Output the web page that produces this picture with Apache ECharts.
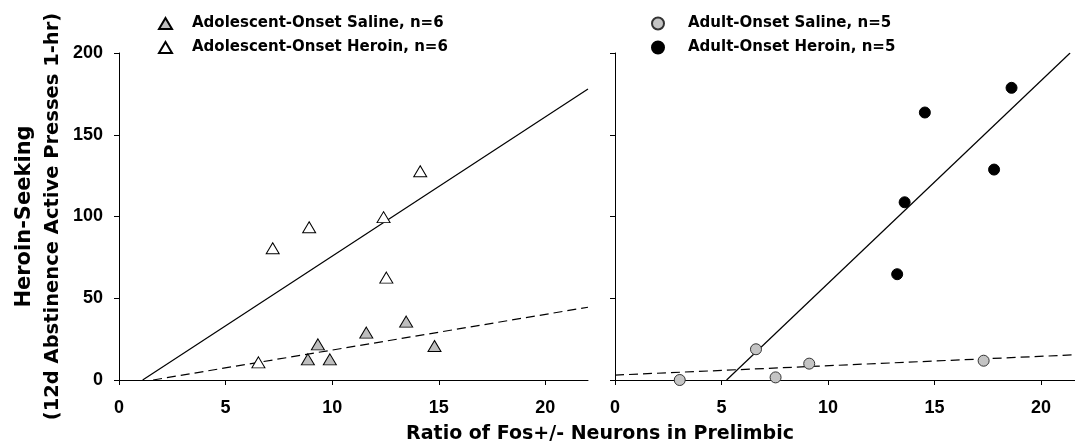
<!DOCTYPE html>
<html>
<head>
<meta charset="utf-8">
<script src="https://cdn.jsdelivr.net/npm/echarts@6/dist/echarts.min.js"></script>
<style>
  html, body { margin: 0; padding: 0; background: #fff; }
  #chart { width: 1075px; height: 445px; }
</style>
</head>
<body>
<div id="chart"></div>
<script>
// tick values
var xTicks = [0, 5, 10, 15, 20];
var yTicks = [0, 50, 100, 150, 200];

// left panel: [ratio, presses]
var adolSaline = [[8.86, 12.6], [9.33, 21.8], [9.89, 12.6], [11.6, 29], [13.47, 35.7], [14.8, 20.8]];
var adolHeroin = [[6.54, 10.8], [7.21, 80.6], [8.92, 93.4], [12.41, 99.6], [12.54, 62.6], [14.13, 127.7]];
// right panel
var adultSaline = [[3.04, 0], [6.62, 18.8], [7.54, 1.6], [9.12, 10], [17.31, 11.8]];
var adultHeroin = [[13.25, 64.7], [13.6, 108.7], [14.55, 163.6], [17.8, 128.7], [18.62, 178.7]];

// fitted regression lines (end points)
var adolHeroinFit = [[1.11, 0], [22, 178]];
var adolSalineFit = [[1.6, 0], [22, 44.5]];
var adultHeroinFit = [[5.24, 0], [21.37, 200]];
var adultSalineFit = [[0, 3], [21.6, 15.4]];

var names = {
  adolSaline: 'Adolescent-Onset Saline, n=6',
  adolHeroin: 'Adolescent-Onset Heroin, n=6',
  adultSaline: 'Adult-Onset Saline, n=5',
  adultHeroin: 'Adult-Onset Heroin, n=5'
};

var chart = echarts.init(document.getElementById('chart'));

var tickFont = { fontFamily: 'Liberation Sans', fontWeight: 'bold', fontSize: 18, color: '#000' };
var titleFont = 'DejaVu Sans';

function xAxisFor(grid, max) {
  return {
    type: 'value', gridIndex: grid, min: 0, max: max,
    splitLine: { show: false },
    axisLine: { onZero: false, lineStyle: { color: '#000', width: 1 } },
    axisTick: { length: 5, customValues: xTicks, lineStyle: { color: '#000' } },
    axisLabel: Object.assign({ margin: 19, customValues: xTicks }, tickFont)
  };
}

function yAxisFor(grid, labels) {
  var ax = {
    type: 'value', gridIndex: grid, min: 0, max: 200, interval: 50,
    splitLine: { show: false },
    axisLine: { show: true, onZero: false, lineStyle: { color: '#000', width: 1 } },
    axisTick: { show: true, length: 5, lineStyle: { color: '#000' } },
    axisLabel: Object.assign({ show: labels, margin: 16 }, tickFont)
  };
  if (labels) {
    ax.name = '{a|Heroin-Seeking}\n{b|(12d Abstinence Active Presses 1-hr)}';
    ax.nameLocation = 'middle';
    ax.nameRotate = 90;
    ax.nameGap = 53;
    ax.nameTextStyle = {
      fontFamily: titleFont, fontWeight: 'bold', color: '#000',
      rich: {
        a: { fontFamily: titleFont, fontWeight: 'bold', fontSize: 21, lineHeight: 29, color: '#000' },
        b: { fontFamily: titleFont, fontWeight: 'bold', fontSize: 19.5, lineHeight: 27, color: '#000' }
      }
    };
  }
  return ax;
}

function fitLine(data, grid, dashed) {
  return {
    type: 'line', xAxisIndex: grid, yAxisIndex: grid, data: data,
    showSymbol: false, silent: true, z: 1, clip: true,
    lineStyle: { color: '#000', width: 1.2, type: dashed ? [9, 5] : 'solid' }
  };
}

var legendText = { fontFamily: titleFont, fontWeight: 'bold', fontSize: 15, color: '#000' };

var option = {
  animation: false,
  backgroundColor: '#fff',
  grid: [
    { left: 119, top: 53, width: 469, height: 327, outerBoundsMode: 'none' },
    { left: 615, top: 53, width: 460, height: 327, outerBoundsMode: 'none' }
  ],
  legend: [
    {
      data: [names.adolSaline, names.adolHeroin],
      orient: 'vertical', left: 153, top: 11, itemGap: 9,
      itemWidth: 13, itemHeight: 11,
      textStyle: Object.assign({ padding: [0, 0, 0, 15] }, legendText)
    },
    {
      data: [names.adultSaline, names.adultHeroin],
      orient: 'vertical', left: 646, top: 11, itemGap: 9,
      itemWidth: 12, itemHeight: 12,
      textStyle: Object.assign({ padding: [0, 0, 0, 19] }, legendText)
    }
  ],
  xAxis: [xAxisFor(0, 22), xAxisFor(1, 21.6)],
  yAxis: [yAxisFor(0, true), yAxisFor(1, false)],
  graphic: [{
    type: 'text', x: 600, y: 434,
    style: {
      text: 'Ratio of Fos+/- Neurons in Prelimbic',
      fontFamily: titleFont, fontWeight: 'bold', fontSize: 19, fill: '#000',
      align: 'center', verticalAlign: 'middle'
    }
  }],
  series: [
    fitLine(adolHeroinFit, 0, false),
    fitLine(adolSalineFit, 0, true),
    fitLine(adultHeroinFit, 1, false),
    fitLine(adultSalineFit, 1, true),
    {
      name: names.adolSaline, type: 'scatter', xAxisIndex: 0, yAxisIndex: 0, z: 3,
      symbol: 'triangle', symbolSize: [13, 11], data: adolSaline,
      itemStyle: { color: '#bebebe', borderColor: '#000', borderWidth: 1, opacity: 1 }
    },
    {
      name: names.adolHeroin, type: 'scatter', xAxisIndex: 0, yAxisIndex: 0, z: 3,
      symbol: 'triangle', symbolSize: [13, 11], data: adolHeroin,
      itemStyle: { color: '#fff', borderColor: '#000', borderWidth: 1, opacity: 1 }
    },
    {
      name: names.adultSaline, type: 'scatter', xAxisIndex: 1, yAxisIndex: 1, z: 3,
      symbol: 'circle', symbolSize: 11, data: adultSaline,
      itemStyle: { color: '#c4c4c4', borderColor: '#333', borderWidth: 1, opacity: 1 }
    },
    {
      name: names.adultHeroin, type: 'scatter', xAxisIndex: 1, yAxisIndex: 1, z: 3,
      symbol: 'circle', symbolSize: 11, data: adultHeroin,
      itemStyle: { color: '#000', borderColor: '#000', borderWidth: 1, opacity: 1 }
    }
  ]
};

chart.setOption(option);
</script>
</body>
</html>
